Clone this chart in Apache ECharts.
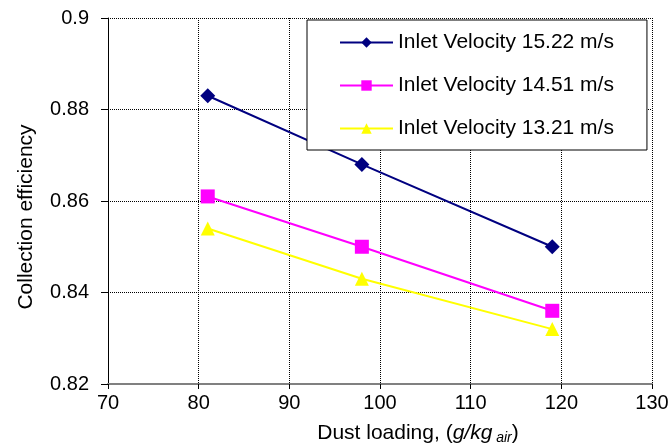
<!DOCTYPE html>
<html style="height: 100%">
<head>
    <meta charset="utf-8">
</head>
<body style="margin: 0; background: #fff;">
<div id="container" style="width: 672px; height: 448px;"></div>
<script type="text/javascript" src="https://cdn.jsdelivr.net/npm/echarts@6/dist/echarts.min.js"></script>
<script type="text/javascript">
    // dust loading (g/kg air)
    var dustLoading = [81, 98, 119];
    var names = ['Inlet Velocity 15.22 m/s', 'Inlet Velocity 14.51 m/s', 'Inlet Velocity 13.21 m/s'];
    var eff1522 = [0.883, 0.868, 0.850];
    var eff1451 = [0.861, 0.850, 0.836];
    var eff1321 = [0.854, 0.843, 0.832];

    function pairs(ys) {
        return dustLoading.map(function (x, i) { return [x, ys[i]]; });
    }

    var dom = document.getElementById('container');
    var myChart = echarts.init(dom);
    var font = 'Liberation Sans, Arial, sans-serif';

    var option = {
        animation: false,
        textStyle: { fontFamily: font },
        grid: {
            left: 108,
            right: 20,
            top: 18,
            bottom: 64,
            outerBoundsMode: 'none'
        },
        legend: {
            orient: 'vertical',
            left: 307,
            top: 20,
            padding: [12, 33, 11, 32],
            itemGap: 22,
            itemWidth: 53,
            itemHeight: 13,
            backgroundColor: '#fff',
            borderColor: '#000',
            borderWidth: 1,
            textStyle: { fontSize: 21, color: '#000', fontFamily: font },
            data: names
        },
        xAxis: {
            type: 'value',
            min: 70,
            max: 130,
            interval: 10,
            name: '{n|Dust loading, (}{i|g/kg}{s| air}{n|)}',
            nameLocation: 'middle',
            nameGap: 37,
            nameTextStyle: {
                padding: [0, 0, 0, 76],
                rich: {
                    n: { fontSize: 21, color: '#000', fontFamily: font },
                    i: { fontSize: 21, color: '#000', fontStyle: 'italic', fontFamily: font },
                    s: { fontSize: 14, color: '#000', fontStyle: 'italic', fontFamily: font, padding: [10, 0, 0, 0] }
                }
            },
            axisLine: { show: true, lineStyle: { color: '#808080', width: 2 } },
            axisTick: { show: true, length: 5, lineStyle: { color: '#000' } },
            axisLabel: { fontSize: 20, color: '#000', margin: 9 },
            splitLine: { show: true, lineStyle: { color: '#000', type: [1, 1], width: 1 } }
        },
        yAxis: {
            type: 'value',
            min: 0.82,
            max: 0.9,
            interval: 0.02,
            name: 'Collection efficiency',
            nameLocation: 'middle',
            nameGap: 71,
            nameTextStyle: { fontSize: 21, color: '#000', padding: [0, 32, 0, 0] },
            axisLine: { show: true, lineStyle: { color: '#000', width: 1 } },
            axisTick: { show: true, length: 7, lineStyle: { color: '#000' } },
            axisLabel: { fontSize: 20, color: '#000', margin: 19 },
            splitLine: { show: true, lineStyle: { color: '#000', type: [1, 1], width: 1 } }
        },
        series: [
            {
                name: names[0],
                type: 'line',
                data: pairs(eff1522),
                symbol: 'diamond',
                symbolSize: 15,
                color: '#000080',
                lineStyle: { width: 2 }
            },
            {
                name: names[1],
                type: 'line',
                data: pairs(eff1451),
                symbol: 'rect',
                symbolSize: 14,
                color: '#ff00ff',
                lineStyle: { width: 2 }
            },
            {
                name: names[2],
                type: 'line',
                data: pairs(eff1321),
                symbol: 'triangle',
                symbolSize: 14,
                color: '#ffff00',
                lineStyle: { width: 2 }
            }
        ]
    };

    if (option && typeof option === 'object') {
        myChart.setOption(option);
    }
</script>
</body>
</html>
